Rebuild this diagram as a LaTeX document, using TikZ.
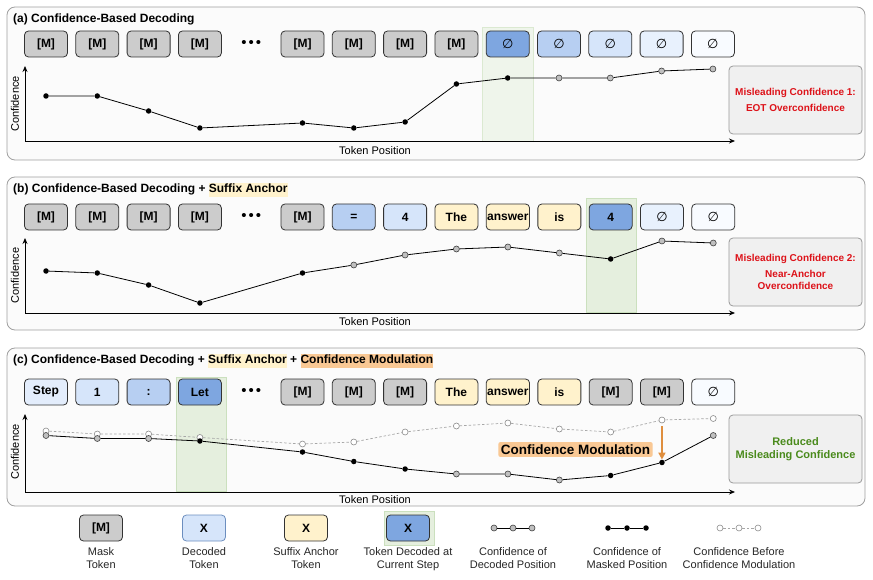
\documentclass[tikz,border=0pt]{standalone}
\usepackage{fontspec}
\setmainfont{Liberation Sans}
\newfontfamily\dvfont{DejaVu Sans}
\usepackage{xcolor}
\usepackage{tikz}
\usetikzlibrary{arrows.meta,positioning}

\definecolor{maskgray}{HTML}{CCCCCC}
\definecolor{tokline}{HTML}{333333}
\definecolor{decA}{HTML}{E3EDFC}
\definecolor{decB}{HTML}{D6E5FA}
\definecolor{decC}{HTML}{B7CFF2}
\definecolor{decD}{HTML}{7EA6E0}
\definecolor{decE}{HTML}{E8F1FD}
\definecolor{decF}{HTML}{F8FBFF}
\definecolor{decline}{HTML}{6C8EBF}
\definecolor{anchoryel}{HTML}{FFF2CC}
\definecolor{modfill}{HTML}{F9C894}
\definecolor{modline}{HTML}{DF8E3E}
\definecolor{panelbg}{HTML}{FBFBFB}
\definecolor{panelline}{HTML}{A0A0A0}
\definecolor{hlfill}{HTML}{E5EFDE}
\definecolor{hlline}{HTML}{CBE0BE}
\definecolor{sidebg}{HTML}{F0F0F0}
\definecolor{sideline}{HTML}{9A9A9A}
\definecolor{misred}{HTML}{DD1219}
\definecolor{okgreen}{HTML}{4A8A1C}
\definecolor{ptgray}{HTML}{C0C0C0}

\newcommand{\emptytok}{{\dvfont\mdseries\fontsize{13}{13}\selectfont ∅}}
\newcommand{\hlword}[2]{{\setlength{\fboxsep}{0pt}\colorbox{#1}{\strut #2}}}

\begin{document}
\begin{tikzpicture}[x=1pt, y=-1pt, node distance=8.3pt,
  tok/.style={rectangle, draw=tokline, rounded corners=4pt, line width=0.8pt,
              minimum width=43pt, minimum height=26pt, inner sep=1pt, outer sep=0pt,
              font=\fontsize{12}{13}\selectfont\bfseries},
  mtok/.style={tok, fill=maskgray},
  ytok/.style={tok, fill=anchoryel},
  tokdots/.style={minimum width=43pt, minimum height=26pt, inner sep=0pt, outer sep=0pt,
                  font=\fontsize{15}{15}\selectfont},
  panel/.style={draw=panelline, fill=panelbg, rounded corners=8pt, line width=0.8pt},
  hl/.style={draw=hlline, fill=hlfill, line width=0.6pt},
  sidebox/.style={rectangle, draw=sideline, fill=sidebg, rounded corners=4pt, line width=0.8pt,
                  minimum width=133pt, minimum height=68pt, align=center,
                  font=\fontsize{10}{12.5}\selectfont\bfseries},
  ptitle/.style={anchor=west, inner sep=0pt, font=\fontsize{12}{14}\selectfont\bfseries},
  axisln/.style={{Stealth[length=6pt,width=5pt]}-{Stealth[length=6pt,width=5pt]}, line width=0.8pt},
  axlbl/.style={font=\fontsize{11}{13}\selectfont},
  conn/.style={line width=0.8pt},
  prept/.style={draw=black!35, dash pattern=on 2.5pt off 2pt, line width=0.7pt},
  mpt/.style={circle, fill=black, inner sep=0pt, minimum size=5.5pt},
  dpt/.style={circle, draw=black!75, fill=ptgray, inner sep=0pt, minimum size=6pt, line width=0.6pt},
  opt/.style={circle, draw=black!45, fill=white, inner sep=0pt, minimum size=6pt, line width=0.6pt},
  modarr/.style={-{Triangle[length=7pt,width=7pt]}, draw=modline, line width=2pt},
  modlbl/.style={fill=modfill, rounded corners=2pt, inner sep=2.5pt,
                 font=\fontsize{13.5}{15}\selectfont\bfseries},
  lgtxt/.style={align=center, font=\fontsize{11}{13}\selectfont, text=black!85}
]
  \useasboundingbox (0,0) rectangle (873,580);

  % ---------- (a) ----------
  \draw[panel] (7,7) rectangle (865,160);
  \draw[hl, draw=hlline!70, fill=hlfill!60] (482,27) rectangle (533,141);
  \node[ptitle] (ta) at (13,19) {(a) Confidence-Based Decoding};

  \node[mtok]                (a1)  at (46,44) {[M]};
  \node[mtok, right=of a1]   (a2)  {[M]};
  \node[mtok, right=of a2]   (a3)  {[M]};
  \node[mtok, right=of a3]   (a4)  {[M]};
  \node[tokdots, right=of a4] (a5) {•\kern2pt•\kern2pt•};
  \node[mtok, right=of a5]   (a6)  {[M]};
  \node[mtok, right=of a6]   (a7)  {[M]};
  \node[mtok, right=of a7]   (a8)  {[M]};
  \node[mtok, right=of a8]   (a9)  {[M]};
  \node[tok, fill=decD, right=of a9]  (a10) {\emptytok};
  \node[tok, fill=decC, right=of a10] (a11) {\emptytok};
  \node[tok, fill=decB, right=of a11] (a12) {\emptytok};
  \node[tok, fill=decE, right=of a12] (a13) {\emptytok};
  \node[tok, fill=decF, right=of a13] (a14) {\emptytok};

  \node[sidebox, text=misred] (sa) at (795.5,100) {Misleading Confidence 1:\\[3.5pt] EOT Overconfidence};

  \coordinate (oa) at (25,141);
  \coordinate (ya) at (25,66);
  \coordinate (xa) at (735,141);
  \draw[axisln] (ya) -- (oa) -- (xa);
  \node[axlbl, rotate=90] (cfa) at (15,104) {Confidence};
  \node[axlbl] (tpa) at (375,151) {Token Position};

  \node[mpt] (pa1)  at (a1 |- 0,96)  {};
  \node[mpt] (pa2)  at (a2 |- 0,96)  {};
  \node[mpt] (pa3)  at (a3 |- 0,111) {};
  \node[mpt] (pa4)  at (a4 |- 0,128) {};
  \node[mpt] (pa6)  at (a6 |- 0,123) {};
  \node[mpt] (pa7)  at (a7 |- 0,128) {};
  \node[mpt] (pa8)  at (a8 |- 0,122) {};
  \node[mpt] (pa9)  at (a9 |- 0,84)  {};
  \node[mpt] (pa10) at (a10 |- 0,78) {};
  \node[dpt] (pa11) at (a11 |- 0,78) {};
  \node[dpt] (pa12) at (a12 |- 0,78) {};
  \node[dpt] (pa13) at (a13 |- 0,71) {};
  \node[dpt] (pa14) at (a14 |- 0,69) {};
  \draw[conn] (pa1) -- (pa2) -- (pa3) -- (pa4) -- (pa6) -- (pa7) -- (pa8) -- (pa9) -- (pa10)
              -- (pa11) -- (pa12) -- (pa13) -- (pa14);

  % ---------- (b) ----------
  \draw[panel] (7,177) rectangle (865,330);
  \draw[hl] (586,198) rectangle (636,312);
  \node[ptitle] (tb) at (13,190) {(b) Confidence-Based Decoding + \hlword{anchoryel}{Suffix Anchor}};

  \node[mtok]                (b1)  at (46,217) {[M]};
  \node[mtok, right=of b1]   (b2)  {[M]};
  \node[mtok, right=of b2]   (b3)  {[M]};
  \node[mtok, right=of b3]   (b4)  {[M]};
  \node[tokdots, right=of b4] (b5) {•\kern2pt•\kern2pt•};
  \node[mtok, right=of b5]   (b6)  {[M]};
  \node[tok, fill=decC, right=of b6]  (b7)  {=};
  \node[tok, fill=decB, right=of b7]  (b8)  {4};
  \node[ytok, right=of b8]   (b9)  {The};
  \node[ytok, right=of b9]   (b10) {answer};
  \node[ytok, right=of b10]  (b11) {is};
  \node[tok, fill=decD, right=of b11] (b12) {4};
  \node[tok, fill=decE, right=of b12] (b13) {\emptytok};
  \node[tok, fill=decF, right=of b13] (b14) {\emptytok};

  \node[sidebox, text=misred] (sb) at (795.5,272) {Misleading Confidence 2:\\[3.5pt] Near-Anchor\\ Overconfidence};

  \coordinate (ob) at (25,313);
  \coordinate (yb) at (25,238);
  \coordinate (xb) at (735,313);
  \draw[axisln] (yb) -- (ob) -- (xb);
  \node[axlbl, rotate=90] (cfb) at (15,275.5) {Confidence};
  \node[axlbl] (tpb) at (375,322) {Token Position};

  \node[mpt] (pb1)  at (b1 |- 0,271)  {};
  \node[mpt] (pb2)  at (b2 |- 0,273)  {};
  \node[mpt] (pb3)  at (b3 |- 0,285)  {};
  \node[mpt] (pb4)  at (b4 |- 0,303)  {};
  \node[mpt] (pb6)  at (b6 |- 0,273)  {};
  \node[dpt] (pb7)  at (b7 |- 0,265)  {};
  \node[dpt] (pb8)  at (b8 |- 0,255)  {};
  \node[dpt] (pb9)  at (b9 |- 0,249)  {};
  \node[dpt] (pb10) at (b10 |- 0,247) {};
  \node[dpt] (pb11) at (b11 |- 0,253) {};
  \node[mpt] (pb12) at (b12 |- 0,259) {};
  \node[dpt] (pb13) at (b13 |- 0,241) {};
  \node[dpt] (pb14) at (b14 |- 0,243) {};
  \draw[conn] (pb1) -- (pb2) -- (pb3) -- (pb4) -- (pb6) -- (pb7) -- (pb8) -- (pb9) -- (pb10)
              -- (pb11) -- (pb12) -- (pb13) -- (pb14);

  % ---------- (c) ----------
  \draw[panel] (7,348) rectangle (865,506);
  \draw[hl] (176,377) rectangle (226,491);
  \node[ptitle] (tc) at (13,361) {(c) Confidence-Based Decoding + \hlword{anchoryel}{Suffix Anchor}
                                   + \hlword{modfill}{Confidence Modulation}};

  \node[tok, fill=decA]      (c1)  at (46,392) {Step};
  \node[tok, fill=decB, right=of c1] (c2)  {1};
  \node[tok, fill=decC, right=of c2] (c3)  {:};
  \node[tok, fill=decD, right=of c3] (c4)  {Let};
  \node[tokdots, right=of c4] (c5) {•\kern2pt•\kern2pt•};
  \node[mtok, right=of c5]   (c6)  {[M]};
  \node[mtok, right=of c6]   (c7)  {[M]};
  \node[mtok, right=of c7]   (c8)  {[M]};
  \node[ytok, right=of c8]   (c9)  {The};
  \node[ytok, right=of c9]   (c10) {answer};
  \node[ytok, right=of c10]  (c11) {is};
  \node[mtok, right=of c11]  (c12) {[M]};
  \node[mtok, right=of c12]  (c13) {[M]};
  \node[tok, fill=decF, right=of c13] (c14) {\emptytok};

  \node[sidebox, text=okgreen, font=\fontsize{11}{13.3}\selectfont\bfseries] (sc) at (795.5,449)
       {Reduced\\ Misleading Confidence};

  \coordinate (oc) at (25,492);
  \coordinate (yc) at (25,414);
  \coordinate (xc) at (735,492);
  \draw[axisln] (yc) -- (oc) -- (xc);
  \node[axlbl, rotate=90] (cfc) at (15,452) {Confidence};
  \node[axlbl] (tpc) at (375,499.5) {Token Position};

  % before modulation
  \node[opt] (qc1)  at (c1 |- 0,431)  {};
  \node[opt] (qc2)  at (c2 |- 0,434)  {};
  \node[opt] (qc3)  at (c3 |- 0,434)  {};
  \node[opt] (qc4)  at (c4 |- 0,437.5) {};
  \node[opt] (qc6)  at (c6 |- 0,444)  {};
  \node[opt] (qc7)  at (c7 |- 0,442)  {};
  \node[opt] (qc8)  at (c8 |- 0,432)  {};
  \node[opt] (qc9)  at (c9 |- 0,426)  {};
  \node[opt] (qc10) at (c10 |- 0,423) {};
  \node[opt] (qc11) at (c11 |- 0,429) {};
  \node[opt] (qc12) at (c12 |- 0,432) {};
  \node[opt] (qc13) at (c13 |- 0,420) {};
  \node[opt] (qc14) at (c14 |- 0,418.5) {};
  \draw[prept] (qc1) -- (qc2) -- (qc3) -- (qc4) -- (qc6) -- (qc7) -- (qc8) -- (qc9) -- (qc10)
               -- (qc11) -- (qc12) -- (qc13) -- (qc14);

  % after modulation
  \node[dpt] (pc1)  at (c1 |- 0,435.5) {};
  \node[dpt] (pc2)  at (c2 |- 0,438.5) {};
  \node[dpt] (pc3)  at (c3 |- 0,438.5) {};
  \node[mpt] (pc4)  at (c4 |- 0,441)  {};
  \node[mpt] (pc6)  at (c6 |- 0,452)  {};
  \node[mpt] (pc7)  at (c7 |- 0,461.5) {};
  \node[mpt] (pc8)  at (c8 |- 0,469)  {};
  \node[dpt] (pc9)  at (c9 |- 0,474)  {};
  \node[dpt] (pc10) at (c10 |- 0,474) {};
  \node[dpt] (pc11) at (c11 |- 0,480) {};
  \node[mpt] (pc12) at (c12 |- 0,475.5) {};
  \node[mpt] (pc13) at (c13 |- 0,462.5) {};
  \node[dpt] (pc14) at (c14 |- 0,435.5) {};
  \draw[conn] (pc1) -- (pc2) -- (pc3) -- (pc4) -- (pc6) -- (pc7) -- (pc8) -- (pc9) -- (pc10)
              -- (pc11) -- (pc12) -- (pc13) -- (pc14);

  \node[modlbl] (cml) at (575.5,449.5) {Confidence Modulation};
  \coordinate (mtop) at (c13 |- 0,426);
  \draw[modarr] (mtop) -- (pc13);

  % ---------- legend ----------
  \draw[hl] (384,511) rectangle (434,545);
  \node[mtok]                  (lg1) at (101,528) {[M]};
  \node[tok, fill=decB, draw=decline] (lg2) at (204,528) {X};
  \node[ytok]                  (lg3) at (306,528) {X};
  \node[tok, fill=decD]        (lg4) at (408,528) {X};
  \node[lgtxt, below=3pt of lg1] (lt1) {Mask\\ Token};
  \node[lgtxt, below=3pt of lg2] (lt2) {Decoded\\ Token};
  \node[lgtxt, below=3pt of lg3] (lt3) {Suffix Anchor\\ Token};
  \node[lgtxt, below=3pt of lg4] (lt4) {Token Decoded at\\ Current Step};

  \node[dpt] (ld1) at (494,528) {};
  \node[dpt] (ld2) at (513,528) {};
  \node[dpt] (ld3) at (532,528) {};
  \draw[conn] (ld1) -- (ld2) -- (ld3);
  \node[mpt] (lm1) at (608,528) {};
  \node[mpt] (lm2) at (627,528) {};
  \node[mpt] (lm3) at (646,528) {};
  \draw[conn] (lm1) -- (lm2) -- (lm3);
  \node[opt] (lo1) at (720,528) {};
  \node[opt] (lo2) at (739,528) {};
  \node[opt] (lo3) at (758,528) {};
  \draw[prept] (lo1) -- (lo2) -- (lo3);
  \node[lgtxt] (lt5) at (ld2 |- lt1) {Confidence of\\ Decoded Position};
  \node[lgtxt] (lt6) at (lm2 |- lt1) {Confidence of\\ Masked Position};
  \node[lgtxt] (lt7) at (lo2 |- lt1) {Confidence Before\\ Confidence Modulation};
\end{tikzpicture}
\end{document}
